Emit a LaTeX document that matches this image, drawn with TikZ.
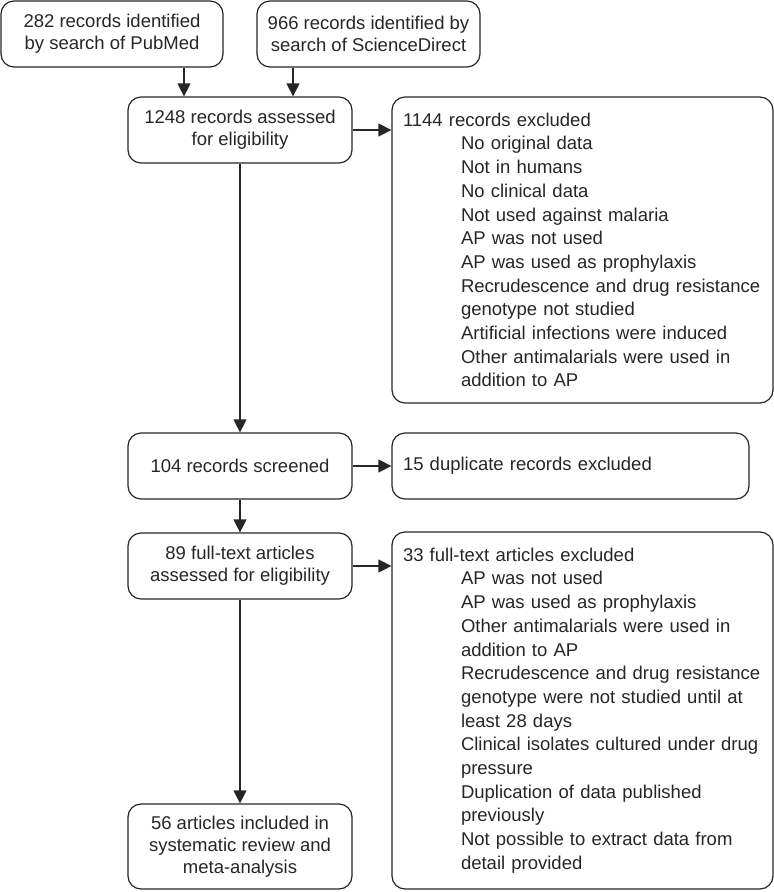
\documentclass[tikz,border=0pt]{standalone}
\usepackage{fontspec}
\setmainfont{Liberation Sans}
\usetikzlibrary{arrows.meta}
\newcommand{\exind}{\hspace*{58pt}}
\begin{document}
\begin{tikzpicture}[x=1pt,y=-1pt,
    box/.style={draw=black!85, line width=1.2pt, rounded corners=13pt, align=center,
      text=black!85, inner sep=0pt, font=\fontsize{18.5}{22}\selectfont},
    listbox/.style={box, align=left, inner xsep=11pt, text width=359pt,
      font=\fontsize{18.5}{23.7}\selectfont},
    arr/.style={draw=black!85, line width=1.2pt, -{Triangle[length=13pt,width=13pt]}}]
  \useasboundingbox (0,0) rectangle (774,892);
  % sources
  \node[box, minimum width=222pt, minimum height=66pt] (pubmed) at (112,34)
    {282 records identified\\by search of PubMed};
  \node[box, minimum width=223pt, minimum height=66pt] (scidir) at (368.5,34)
    {966 records identified by\\search of ScienceDirect};
  % main column
  \node[box, minimum width=224pt, minimum height=66pt] (assess) at (240,130)
    {1248 records assessed\\for eligibility};
  \node[box, minimum width=224pt, minimum height=66pt] (screen) at (240,466)
    {104 records screened};
  \node[box, minimum width=224pt, minimum height=66pt] (fulltext) at (240,566)
    {89 full-text articles\\assessed for eligibility};
  \node[box, minimum width=224pt, minimum height=85pt] (incl) at (240,846.5)
    {56 articles included in\\systematic review and\\meta-analysis};
  % exclusions
  \node[listbox, minimum height=306pt] (excl1) at (582.5,250)
    {1144 records excluded\\
     \exind No original data\\
     \exind Not in humans\\
     \exind No clinical data\\
     \exind Not used against malaria\\
     \exind AP was not used\\
     \exind AP was used as prophylaxis\\
     \exind Recrudescence and drug resistance\\
     \exind genotype not studied\\
     \exind Artificial infections were induced\\
     \exind Other antimalarials were used in\\
     \exind addition to AP};
  \node[box, align=left, inner xsep=11pt, text width=335pt, minimum height=66pt] (dup) at (570.5,466)
    {15 duplicate records excluded};
  \node[listbox, minimum height=357pt] (excl2) at (582.5,710.5)
    {33 full-text articles excluded\\
     \exind AP was not used\\
     \exind AP was used as prophylaxis\\
     \exind Other antimalarials were used in\\
     \exind addition to AP\\
     \exind Recrudescence and drug resistance\\
     \exind genotype were not studied until at\\
     \exind least 28 days\\
     \exind Clinical isolates cultured under drug\\
     \exind pressure\\
     \exind Duplication of data published\\
     \exind previously\\
     \exind Not possible to extract data from\\
     \exind detail provided};
  % connectors
  \coordinate (inL) at ([xshift=-56pt]assess.north);
  \coordinate (inR) at ([xshift=53pt]assess.north);
  \draw[arr] (pubmed.south -| inL) -- (inL);
  \draw[arr] (scidir.south -| inR) -- (inR);
  \draw[arr] (assess.east) -- (assess.east -| excl1.west);
  \draw[arr] (assess.south) -- (screen.north);
  \draw[arr] (screen.east) -- (dup.west);
  \draw[arr] (screen.south) -- (fulltext.north);
  \draw[arr] (fulltext.east) -- (fulltext.east -| excl2.west);
  \draw[arr] (fulltext.south) -- (incl.north);
\end{tikzpicture}
\end{document}
